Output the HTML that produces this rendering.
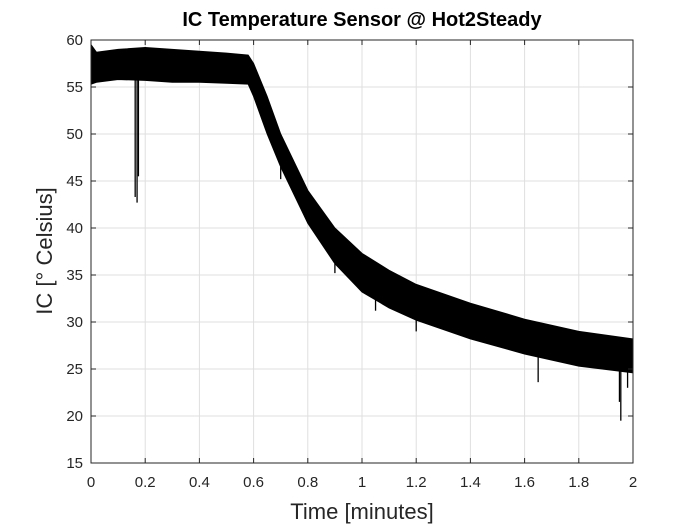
<!DOCTYPE html>
<html><head><meta charset="utf-8"><style>
body{margin:0;background:#fff;}
svg{display:block;font-family:"Liberation Sans",Arial,sans-serif;}
</style></head><body>
<svg id="chart" width="700" height="525" xmlns="http://www.w3.org/2000/svg">
<rect width="700" height="525" fill="#fff"/>
<text x="362" y="26" text-anchor="middle" font-size="20" font-weight="bold" fill="#000">IC Temperature Sensor @ Hot2Steady</text>
<g id="grid"></g>
<g id="series"></g>
<rect x="91" y="40" width="542" height="423" fill="none" stroke="#262626" stroke-width="1"/>
<g id="ticks"></g>
<text x="362" y="519" text-anchor="middle" font-size="22" fill="#262626">Time [minutes]</text>
<text transform="translate(52,251) rotate(-90)" text-anchor="middle" font-size="22" fill="#262626">IC [° Celsius]</text>
</svg>
<script>
const xTicks=[0,0.2,0.4,0.6,0.8,1,1.2,1.4,1.6,1.8,2];
const xTickLabels=["0","0.2","0.4","0.6","0.8","1","1.2","1.4","1.6","1.8","2"];
const yTicks=[15,20,25,30,35,40,45,50,55,60];
const yTickLabels=["15","20","25","30","35","40","45","50","55","60"];
const times=[0,0.02,0.1,0.2,0.3,0.4,0.5,0.58,0.6,0.65,0.7,0.8,0.9,1.0,1.1,1.2,1.4,1.6,1.8,2.0];
const upper=[59.5,58.7,59.0,59.2,59.0,58.8,58.6,58.4,57.5,54,50,44,40,37.3,35.5,34,32,30.3,29,28.2];
const lower=[55.3,55.5,55.8,55.7,55.5,55.5,55.4,55.3,54,50,46.5,40.5,36.2,33.2,31.5,30.2,28.2,26.6,25.3,24.6];
const dipTimes=[0.163,0.17,0.175,0.7,0.9,1.05,1.2,1.65,1.95,1.955,1.98];
const dipValues=[43.3,42.7,45.5,45.2,35.2,31.2,29.0,23.6,21.5,19.5,23.0];
const X=v=>91+(v-0)/(2-0)*542;
const Y=v=>463-(v-15)/(60-15)*423;
const NS="http://www.w3.org/2000/svg";
function mk(tag,attrs,parent){const e=document.createElementNS(NS,tag);for(const k in attrs)e.setAttribute(k,attrs[k]);parent.appendChild(e);return e;}
const grid=document.getElementById('grid'),ticks=document.getElementById('ticks'),series=document.getElementById('series');
xTicks.forEach((t,i)=>{
 const g=mk('line',{x1:X(t),x2:X(t),y1:40,y2:463,stroke:'#dfdfdf','stroke-width':1},grid);
 
 
 mk('line',{x1:X(t),x2:X(t),y1:463,y2:458,stroke:'#262626'},ticks);
 mk('line',{x1:X(t),x2:X(t),y1:40,y2:45,stroke:'#262626'},ticks);
 const l=mk('text',{x:X(t),y:487,'text-anchor':'middle','font-size':15,fill:'#262626'},ticks);
 l.textContent=xTickLabels[i];
 
 
});
yTicks.forEach((t,i)=>{
 const g=mk('line',{x1:91,x2:633,y1:Y(t),y2:Y(t),stroke:'#dfdfdf','stroke-width':1},grid);
 
 
 mk('line',{x1:91,x2:96,y1:Y(t),y2:Y(t),stroke:'#262626'},ticks);
 mk('line',{x1:633,x2:628,y1:Y(t),y2:Y(t),stroke:'#262626'},ticks);
 const l=mk('text',{x:83,y:Y(t)+5,'text-anchor':'end','font-size':15,fill:'#262626'},ticks);
 l.textContent=yTickLabels[i];
 
 
});
let pts=times.map((t,i)=>X(t)+','+Y(upper[i]));
for(let i=times.length-1;i>=0;i--)pts.push(X(times[i])+','+Y(lower[i]));
const band=mk('polygon',{points:pts.join(' '),fill:'#000',stroke:'#000','stroke-width':1},series);


function lowerAt(t){for(let i=1;i<times.length;i++){if(t<=times[i]){const f=(t-times[i-1])/(times[i]-times[i-1]);return lower[i-1]+f*(lower[i]-lower[i-1]);}}return lower[lower.length-1];}
dipTimes.forEach((t,i)=>{
 const d=mk('line',{x1:X(t),x2:X(t),y1:Y(lowerAt(t)),y2:Y(dipValues[i]),stroke:'#000','stroke-width':1.3},series);
 
 
});
</script>
</body></html>
